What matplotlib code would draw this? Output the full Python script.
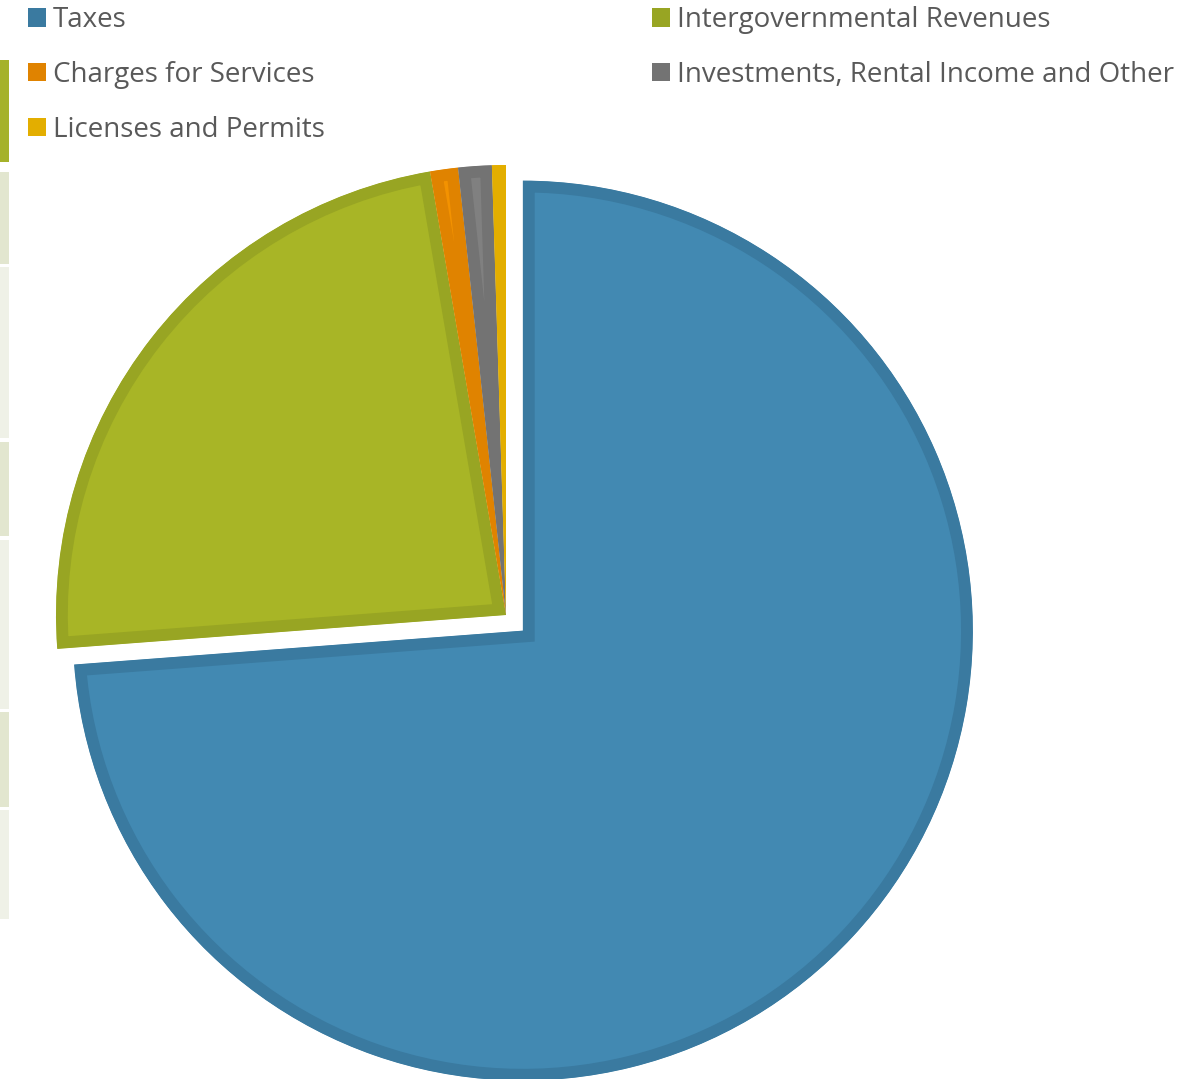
import matplotlib
matplotlib.use("Agg")
from matplotlib import pyplot as plt
from matplotlib.patches import Patch, Rectangle

# revenue shares (percent)
categories = ["Taxes", "Intergovernmental Revenues", "Charges for Services",
              "Investments, Rental Income and Other", "Licenses and Permits"]
shares = [73.8, 23.5, 1.0, 1.2, 0.5]
explode = [23, 0, 0, 0, 0]  # pixels, Taxes slice pulled out

fills = ["#4289B2", "#A8B526", "#F39200", "#808080", "#E6B000"]
edges = ["#3A7AA0", "#98A523", "#E08300", "#737373", "#E3AE00"]

W, H = 1186, 1079
fig = plt.figure(figsize=(W / 100, H / 100), dpi=100)
ax = fig.add_axes([0, 0, 1, 1])

wedges, _ = ax.pie(shares, explode=explode, colors=fills, startangle=90,
                   counterclock=False, radius=450, center=(506, H - 615),
                   frame=False, wedgeprops=dict(linewidth=17))
ax.set_xlim(0, W)
ax.set_ylim(0, H)
ax.set_aspect("auto")
ax.axis("off")

for w, ec in zip(wedges, edges):
    w.set_edgecolor(ec)
    w.set_clip_on(True)
    w.set_clip_path(w)  # inner stroke only

# cropped table strips on the left edge
strips = [(60, 162, "#A5B22A"), (172, 264, "#E2E6CF"), (267, 438, "#EFF1E7"),
          (442, 536, "#E2E6CF"), (540, 709, "#EFF1E7"), (712, 807, "#E2E6CF"),
          (810, 919, "#EFF1E7")]
for y0, y1, c in strips:
    ax.add_patch(Rectangle((0, H - y1), 9, y1 - y0, color=c, lw=0))

txt = "#595959"
fs = 20
leg_kw = dict(frameon=False, handlelength=0.65, handleheight=0.65,
              handletextpad=0.25, labelspacing=0.97, borderaxespad=0,
              borderpad=0, labelcolor=txt, prop={"family": "Open Sans", "size": fs})
h1 = [Patch(facecolor=edges[i], label=categories[i]) for i in [0, 2, 4]]
h2 = [Patch(facecolor=edges[i], label=categories[i]) for i in [1, 3]]
leg1 = ax.legend(handles=h1, loc="upper left", bbox_to_anchor=(28 / W, 1 - 6 / H), **leg_kw)
ax.add_artist(leg1)
ax.legend(handles=h2, loc="upper left", bbox_to_anchor=(652 / W, 1 - 6 / H), **leg_kw)

plt.savefig("out.png", dpi=100)
